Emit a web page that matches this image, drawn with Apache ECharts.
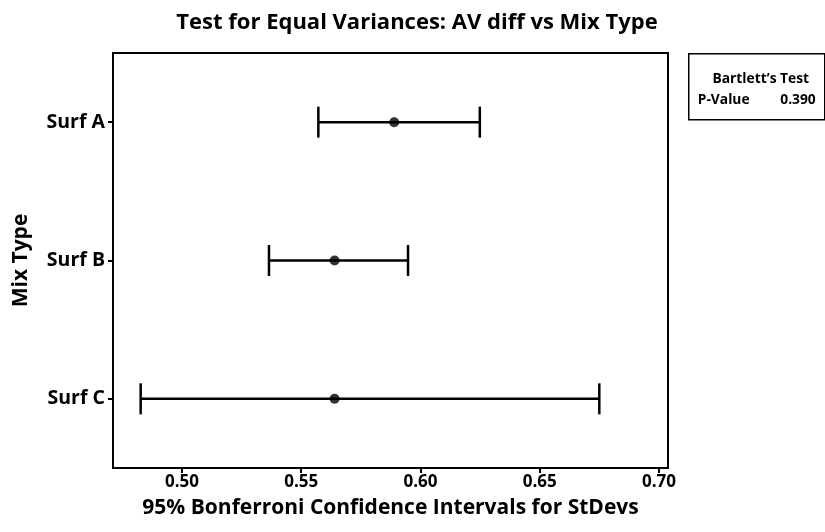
<!DOCTYPE html>
<html>
<head>
<meta charset="utf-8">
<script src="https://cdn.jsdelivr.net/npm/echarts@6/dist/echarts.min.js"></script>
<style>
  html, body { margin: 0; padding: 0; background: #fff; }
  #chart { width: 825px; height: 532px; }
</style>
</head>
<body>
<div id="chart"></div>
<script>
// Bonferroni confidence intervals for the standard deviation of each mix type
const mixTypes = ['Surf A', 'Surf B', 'Surf C'];
const lowerCI  = [0.5572, 0.5365, 0.4827];
const stDev    = [0.5890, 0.5640, 0.5640];
const upperCI  = [0.6249, 0.5948, 0.6750];
const xTicks   = [0.50, 0.55, 0.60, 0.65, 0.70];
const pValue   = 0.390;

const FONT = '"Open Sans", "DejaVu Sans", sans-serif';

const intervalData = mixTypes.map((m, i) => [lowerCI[i], upperCI[i], i]);
const pointData = mixTypes.map((m, i) => [stDev[i], i]);

const chart = echarts.init(document.getElementById('chart'), null, { renderer: 'canvas' });

chart.setOption({
  animation: false,
  backgroundColor: '#ffffff',
  textStyle: { fontFamily: FONT },
  title: {
    text: 'Test for Equal Variances: AV diff vs Mix Type',
    left: 412, top: 7, textAlign: 'center',
    textStyle: { fontFamily: FONT, fontSize: 22, fontWeight: 'bold', color: '#000' }
  },
  grid: {
    left: 113, top: 53, width: 555, height: 415,
    containLabel: false, outerBoundsMode: 'none',
    show: true, borderColor: '#000', borderWidth: 2, backgroundColor: '#fff'
  },
  xAxis: {
    type: 'value',
    min: 0.4711, max: 0.7038,
    axisLine: { show: true, lineStyle: { color: '#000', width: 2 } },
    axisTick: { show: true, customValues: xTicks, length: 5, lineStyle: { color: '#000', width: 2 } },
    axisLabel: {
      customValues: xTicks, margin: 6,
      formatter: v => v.toFixed(2),
      fontFamily: FONT, fontSize: 17, fontWeight: 'bold', color: '#000'
    },
    splitLine: { show: false },
    name: '95% Bonferroni Confidence Intervals for StDevs',
    nameLocation: 'middle', nameGap: 30,
    nameTextStyle: { fontFamily: FONT, fontSize: 21, fontWeight: 'bold', color: '#000' }
  },
  yAxis: {
    type: 'category',
    data: mixTypes,
    inverse: true,
    boundaryGap: true,
    axisLine: { show: true, lineStyle: { color: '#000', width: 2 } },
    axisTick: { show: true, alignWithLabel: true, length: 5, lineStyle: { color: '#000', width: 2 } },
    axisLabel: { margin: 8, fontFamily: FONT, fontSize: 19.5, fontWeight: 'bold', color: '#000' },
    splitLine: { show: false },
    name: 'Mix Type',
    nameLocation: 'middle', nameGap: 81, nameRotate: 90,
    nameTextStyle: { fontFamily: FONT, fontSize: 21, fontWeight: 'bold', color: '#000' }
  },
  series: [
    {
      type: 'custom',
      data: intervalData,
      encode: { x: [0, 1], y: 2 },
      renderItem: function (params, api) {
        const lo = api.coord([api.value(0), api.value(2)]);
        const hi = api.coord([api.value(1), api.value(2)]);
        const cap = 15.5;
        const style = { stroke: '#000', lineWidth: 2.5 };
        return {
          type: 'group',
          children: [
            { type: 'line', shape: { x1: lo[0], y1: lo[1], x2: hi[0], y2: hi[1] }, style },
            { type: 'line', shape: { x1: lo[0], y1: lo[1] - cap, x2: lo[0], y2: lo[1] + cap }, style },
            { type: 'line', shape: { x1: hi[0], y1: hi[1] - cap, x2: hi[0], y2: hi[1] + cap }, style }
          ]
        };
      },
      z: 2
    },
    {
      type: 'scatter',
      data: pointData,
      symbol: 'circle',
      symbolSize: 10,
      itemStyle: { color: '#000' },
      z: 3
    }
  ],
  graphic: [
    {
      type: 'group',
      left: 688, top: 53,
      children: [
        { type: 'rect', shape: { x: 0, y: 0, width: 136, height: 66 },
          style: { fill: '#fff', stroke: '#000', lineWidth: 1.5 } },
        { type: 'text', x: 72, y: 25,
          style: { text: 'Bartlett\u2019s Test', textAlign: 'center', textVerticalAlign: 'middle',
                   font: 'bold 13.8px ' + FONT, fill: '#000' } },
        { type: 'text', x: 9, y: 46,
          style: { text: 'P-Value', textAlign: 'left', textVerticalAlign: 'middle',
                   font: 'bold 13.8px ' + FONT, fill: '#000' } },
        { type: 'text', x: 127, y: 46,
          style: { text: pValue.toFixed(3), textAlign: 'right', textVerticalAlign: 'middle',
                   font: 'bold 13.8px ' + FONT, fill: '#000' } }
      ]
    }
  ]
});
</script>
</body>
</html>
